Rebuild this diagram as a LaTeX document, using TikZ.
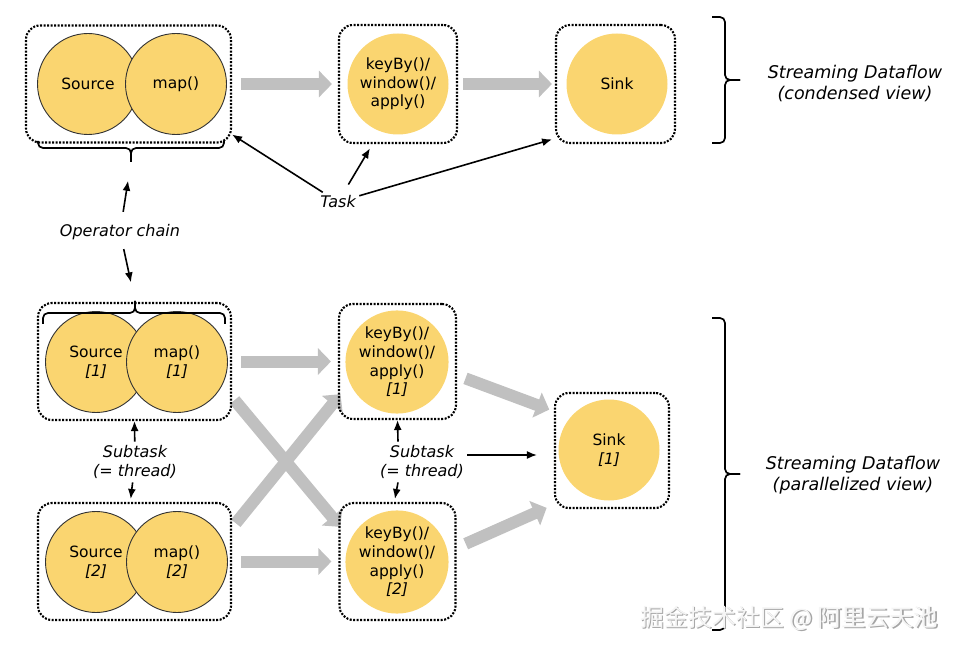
\documentclass[tikz,border=0pt]{standalone}
\usepackage{fontspec}
\setmainfont{DejaVu Sans}
\newfontfamily\cjk{Noto Sans CJK SC}
\usetikzlibrary{arrows.meta,backgrounds}
\definecolor{opfill}{RGB}{250,213,112}
\definecolor{flowgray}{RGB}{192,192,192}
\tikzset{
  dataflow/.style={
    x=1pt, y=-1pt,
    op/.style={circle,fill=opfill,minimum size=101pt,inner sep=0pt,align=center,
        font=\fontsize{15.5}{18.6}\selectfont},
    chained/.style={op,draw=black!80,line width=0.9pt},
    task box/.style={
        draw,
        line width=2.1pt,
        dash pattern=on 2pt off 1.5pt,
        rounded corners=14pt,
        inner sep=0pt,
    },
    flow/.style={draw=flowgray,line width=12pt,-{Triangle[length=13pt,width=26pt]}},
    remark/.style={font=\fontsize{16}{19.5}\selectfont\itshape,align=center},
    view/.style={font=\fontsize{17.5}{21}\selectfont\itshape,align=center},
    pointer/.style={line width=1.6pt,-{Latex[length=10pt,width=8pt]}},
    bracket/.style={line width=1.7pt,rounded corners=5pt},
    watermark/.style={font=\cjk\fontsize{24}{28}\selectfont}
  }
}

\begin{document}
\begin{tikzpicture}[dataflow]
    \useasboundingbox (0,0) rectangle (964,652);

    % condensed view
    \node[task box,minimum width=205pt,minimum height=117pt] (chain0) at (128.5,84) {};
    \node[task box,minimum width=118pt,minimum height=118pt] (wbox0) at (398,84) {};
    \node[task box,minimum width=119pt,minimum height=118pt] (sbox0) at (615.5,84) {};
    \node[chained] (src0) at (88,84) {Source};
    \node[chained] (map0) at (176,84) {map()};
    \node[op] (win0) at (398,84) {keyBy()/\\window()/\\apply()};
    \node[op] (sink0) at (617,84) {Sink};

    % parallelized view
    \node[task box,minimum width=193pt,minimum height=117pt] (chain1) at (134.5,361.5) {};
    \node[task box,minimum width=193pt,minimum height=117pt] (chain2) at (134.5,561.5) {};
    \node[task box,minimum width=117pt,minimum height=115pt] (wbox1) at (397.5,361.5) {};
    \node[task box,minimum width=116pt,minimum height=117pt] (wbox2) at (397.5,561.5) {};
    \node[task box,minimum width=114pt,minimum height=115pt] (sbox1) at (612,450.5) {};
    \node[chained] (src1) at (96,362) {Source\\\textit{[1]}};
    \node[chained] (map1) at (177,362) {map()\\\textit{[1]}};
    \node[chained] (src2) at (96,562) {Source\\\textit{[2]}};
    \node[chained] (map2) at (177,562) {map()\\\textit{[2]}};
    \node[op] (win1) at (397,362) {keyBy()/\\window()/\\apply()\\\textit{[1]}};
    \node[op] (win2) at (397,562) {keyBy()/\\window()/\\apply()\\\textit{[2]}};
    \node[op] (sink1) at (609,450) {Sink\\\textit{[1]}};

    \begin{scope}[on background layer]
        \draw[flow,shorten <=9pt,shorten >=6pt] (chain0.east) -- (wbox0.west);
        \draw[flow,shorten <=5pt,shorten >=3pt] (wbox0.east) -- (sbox0.west);
        \draw[flow,shorten <=9pt,shorten >=7pt] (chain1.east) -- (wbox1.west);
        \draw[flow,shorten <=9pt,shorten >=7pt] (chain2.east) -- (wbox2.west);
        \draw[flow,shorten <=4pt,shorten >=-3pt] (chain1.-20) -- (wbox2.148);
        \draw[flow,shorten <=6pt,shorten >=-4pt] (chain2.19) -- (wbox1.-149);
        \draw[flow,shorten <=9pt,shorten >=5pt] (wbox1.-13) -- (sbox1.146);
        \draw[flow,shorten <=10pt,shorten >=8pt] (wbox2.13) -- (sbox1.-137);
    \end{scope}

    % braces
    \coordinate (chain top) at (131,162);
    \coordinate (chain bottom) at (135,301);
    \draw[bracket] (38,141) |- (131,148) -- (chain top);
    \draw[bracket] (224,141) |- (131,148) -- (chain top);
    \draw[bracket] (43,324) |- (135,313) -- (chain bottom);
    \draw[bracket] (225,324) |- (135,313) -- (chain bottom);
    \draw[bracket] (712,17) -| (725,80) -- (740,80);
    \draw[bracket] (712,143) -| (725,80) -- (740,80);
    \draw[bracket] (712,318) -| (725,474) -- (740,474);
    \draw[bracket] (712,630) -| (725,474) -- (740,474);

    \node[view] (condensed) at (855,84) {Streaming Dataflow\\(condensed view)};
    \node[view] (parallel) at (853,475) {Streaming Dataflow\\(parallelized view)};

    \node[remark] (task) at (338,202) {Task};
    \draw[pointer] (task) -- (chain0.-26);
    \draw[pointer,shorten <=9pt,shorten >=5pt] (task) -- (wbox0.-113);
    \draw[pointer,shorten >=3pt] (task) -- (sbox0.-138);

    \node[remark] (opchain) at (120,232) {Operator chain};
    \draw[pointer,shorten <=9pt,shorten >=19pt] (opchain) -- (chain top);
    \draw[pointer,shorten <=6pt,shorten >=19pt] (opchain) -- (chain bottom);

    \node[remark] (sub0) at (135,462) {Subtask\\(= thread)};
    \draw[pointer] (sub0) -- (chain1.south);
    \draw[pointer,shorten >=3pt] (sub0) -- (chain2.94);

    \node[remark] (sub1) at (422,462) {Subtask\\(= thread)};
    \draw[pointer] ([xshift=-24pt]sub1.north) -- (wbox1.south);
    \draw[pointer,shorten >=3pt] ([xshift=-24pt]sub1.south) -- (wbox2.93);
    \draw[pointer,shorten >=17pt] ([yshift=7pt]sub1.east) -- ([yshift=7pt]sub1.east -| sbox1.west);

    \node[watermark,text=gray!70] at (790.5,619.5) {掘金技术社区 @ 阿里云天池};
    \node[watermark,text=gray!8] (mark) at (789,618) {掘金技术社区 @ 阿里云天池};
\end{tikzpicture}
\end{document}
